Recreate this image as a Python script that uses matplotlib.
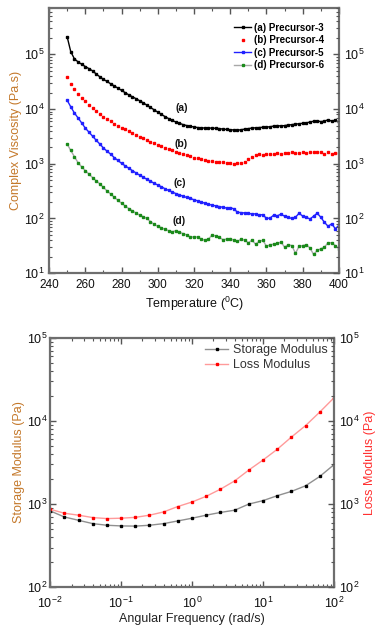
import matplotlib
matplotlib.use("Agg")
import matplotlib.pyplot as plt
from matplotlib.ticker import LogLocator, NullFormatter, MultipleLocator

plt.rcParams['font.family'] = ['Liberation Sans', 'DejaVu Sans']
plt.rcParams['mathtext.fontset'] = 'custom'
plt.rcParams['mathtext.rm'] = 'Liberation Sans'

# ---- top panel data: complex viscosity vs temperature ----
temp = [250, 252, 254, 256, 258, 260, 262, 264, 266, 268, 270, 272, 274, 276, 278,
        280, 282, 284, 286, 288, 290, 292, 294, 296, 298, 300, 302, 304, 306, 308,
        310, 312, 314, 316, 318, 320, 322, 324, 326, 328, 330, 332, 334, 336, 338,
        340, 342, 344, 346, 348, 350, 352, 354, 356, 358, 360, 362, 364, 366, 368,
        370, 372, 374, 376, 378, 380, 382, 384, 386, 388, 390, 392, 394, 396, 398, 400]

visc_a = [2.1e5, 1.12e5, 8.3e4, 7.3e4, 6.6e4, 6.0e4, 5.5e4, 5.0e4, 4.4e4, 3.9e4,
          3.5e4, 3.2e4, 2.9e4, 2.65e4, 2.42e4, 2.2e4, 2.0e4, 1.82e4, 1.68e4, 1.55e4,
          1.42e4, 1.3e4, 1.18e4, 1.07e4, 9.7e3, 8.8e3, 8.0e3, 7.3e3, 6.7e3, 6.2e3,
          5.8e3, 5.5e3, 5.2e3, 5.0e3, 4.85e3, 4.7e3, 4.6e3, 4.55e3, 4.5e3, 4.5e3,
          4.5e3, 4.45e3, 4.4e3, 4.3e3, 4.25e3, 4.2e3, 4.15e3, 4.1e3, 4.2e3, 4.3e3,
          4.4e3, 4.5e3, 4.55e3, 4.6e3, 4.65e3, 4.7e3, 4.75e3, 4.9e3, 5.0e3, 4.9e3,
          5.0e3, 5.1e3, 5.2e3, 5.3e3, 5.4e3, 5.5e3, 5.6e3, 5.8e3, 6.0e3, 6.1e3,
          5.9e3, 6.0e3, 6.4e3, 6.0e3, 6.3e3, 5.7e3]

visc_b = [3.9e4, 2.85e4, 2.35e4, 1.9e4, 1.6e4, 1.38e4, 1.2e4, 1.05e4, 9.2e3, 8.2e3,
          7.3e3, 6.6e3, 6.0e3, 5.4e3, 5.0e3, 4.6e3, 4.25e3, 3.95e3, 3.65e3, 3.4e3,
          3.15e3, 2.95e3, 2.75e3, 2.55e3, 2.4e3, 2.25e3, 2.1e3, 1.98e3, 1.86e3, 1.75e3,
          1.65e3, 1.57e3, 1.5e3, 1.43e3, 1.37e3, 1.3e3, 1.25e3, 1.2e3, 1.16e3, 1.13e3,
          1.12e3, 1.1e3, 1.08e3, 1.06e3, 1.04e3, 1.02e3, 1.0e3, 1.02e3, 1.05e3, 1.08e3,
          1.2e3, 1.35e3, 1.45e3, 1.48e3, 1.45e3, 1.5e3, 1.52e3, 1.5e3, 1.55e3, 1.5e3,
          1.57e3, 1.6e3, 1.62e3, 1.58e3, 1.6e3, 1.62e3, 1.6e3, 1.63e3, 1.65e3, 1.62e3,
          1.66e3, 1.5e3, 1.65e3, 1.52e3, 1.58e3, 1.55e3]

visc_c = [1.45e4, 1.1e4, 8.5e3, 6.9e3, 5.6e3, 4.5e3, 3.8e3, 3.2e3, 2.7e3, 2.3e3,
          1.95e3, 1.7e3, 1.5e3, 1.3e3, 1.15e3, 1.02e3, 920, 830, 750, 680,
          620, 570, 520, 480, 440, 410, 380, 350, 325, 305,
          285, 270, 255, 242, 232, 220, 210, 200, 190, 182,
          175, 170, 165, 160, 155, 158, 150, 130, 128, 126,
          125, 120, 122, 115, 118, 100, 102, 115, 112, 120,
          110, 105, 100, 105, 125, 110, 105, 98, 110, 125,
          105, 85, 72, 80, 65, 75]

visc_d = [2.3e3, 1.75e3, 1.35e3, 1.05e3, 880, 750, 650, 560, 490, 430,
          370, 320, 280, 245, 215, 190, 170, 152, 138, 126,
          115, 108, 100, 88, 78, 72, 68, 63, 60, 57,
          60, 56, 53, 50, 46, 46, 46, 42, 40, 42,
          50, 48, 45, 41, 42, 43, 40, 38, 42, 40,
          36, 40, 34, 38, 40, 31, 33, 34, 35, 37,
          30, 33, 32, 23, 31, 32, 33, 29, 22, 26,
          28, 30, 36, 36, 32, 28]

series_labels = ['(a) Precursor-3', '(b) Precursor-4', '(c) Precursor-5', '(d) Precursor-6']
curve_tags = ['(a)', '(b)', '(c)', '(d)']
tag_pos = [(313, 1.05e4), (313, 2.3e3), (312, 4.4e2), (312, 9.0e1)]

# ---- bottom panel data: moduli vs angular frequency ----
freq = [0.01, 0.0158, 0.0251, 0.0398, 0.0631, 0.1, 0.158, 0.251, 0.398, 0.631,
        1.0, 1.58, 2.51, 3.98, 6.31, 10.0, 15.8, 25.1, 39.8, 63.1, 100.0]
storage = [828, 700, 638, 582, 556, 546, 543, 556, 582, 627,
           676, 735, 793, 844, 1000, 1100, 1260, 1420, 1660, 2150, 2980]
loss = [867, 776, 735, 688, 669, 676, 692, 735, 805, 935,
        1060, 1240, 1510, 1900, 2570, 3390, 4550, 6400, 8800, 12800, 19000]

spine_col = '#6e6e6e'
ylab_col = '#c4782a'

fig = plt.figure(figsize=(3.83, 6.28), dpi=100)


def style_axes(ax, right_ax):
    for sp in ax.spines.values():
        sp.set_color(spine_col)
        sp.set_linewidth(1.6)
    ax.tick_params(which='both', direction='in', top=True, bottom=True, left=True,
                   right=False, colors='#555555', labelcolor='#111111', labelsize=8.5)
    ax.tick_params(which='major', length=4, width=1)
    ax.tick_params(which='minor', length=2, width=0.8)
    right_ax.tick_params(which='both', direction='in', right=True, left=False,
                         colors='#555555', labelcolor='#111111', labelsize=9)
    right_ax.tick_params(which='major', length=4, width=1)
    right_ax.tick_params(which='minor', length=2, width=0.8)
    for sp in right_ax.spines.values():
        sp.set_visible(False)


# top panel
ax1 = fig.add_axes([0.128, 0.565, 0.757, 0.422])
ax1.plot(temp, visc_a, '-s', color='black', ms=2, lw=1.0, mec='black', mfc='black', label=series_labels[0])
ax1.plot(temp, visc_b, 's', color='red', ms=2, mec='red', mfc='red', label=series_labels[1])
ax1.plot(temp, visc_c, '-s', color='#2020ff', ms=2, lw=1.0, mec='#2020ff', mfc='#2020ff', label=series_labels[2])
ax1.plot(temp, visc_d, '-s', color='#a8a8a8', ms=2, lw=1.0, mec='#1a8a1a', mfc='#1a8a1a', label=series_labels[3])
ax1.set_yscale('log')
ax1.set_xlim(240, 400)
ax1.set_ylim(10, 7e5)
ax1.xaxis.set_major_locator(MultipleLocator(20))
ax1.xaxis.set_minor_locator(MultipleLocator(10))
ax1.yaxis.set_major_locator(LogLocator(base=10, numticks=10))
ax1.yaxis.set_minor_locator(LogLocator(base=10, subs=range(2, 10), numticks=20))
ax1.set_xlabel('Temperature ($^{0}$C)', fontsize=9, color='#111111', labelpad=3)
ax1.set_ylabel('Complex Viscosity (Pa.s)', fontsize=9, color=ylab_col, labelpad=1)
for tag, (tx, ty) in zip(curve_tags, tag_pos):
    ax1.text(tx, ty, tag, fontsize=7.5, fontweight='bold', ha='center', va='center', color='#111111')
leg1 = ax1.legend(loc='upper right', frameon=False, prop={'weight': 'bold', 'size': 7},
                  handlelength=1.8, handletextpad=0.3, labelspacing=0.25, borderaxespad=1.1)
ax1r = ax1.twinx()
ax1r.set_yscale('log')
ax1r.set_ylim(ax1.get_ylim())
ax1r.yaxis.set_major_locator(LogLocator(base=10, numticks=10))
ax1r.yaxis.set_minor_locator(LogLocator(base=10, subs=range(2, 10), numticks=20))
style_axes(ax1, ax1r)
ax1.tick_params(axis='y', labelsize=9)
ax1.tick_params(axis='x', pad=4)

# bottom panel
ax2 = fig.add_axes([0.131, 0.065, 0.741, 0.397])
ax2.plot(freq, storage, '-s', color='#909090', ms=2, lw=1.0, mec='black', mfc='black', label='Storage Modulus')
ax2.plot(freq, loss, '-s', color='#ff9a9a', ms=2, lw=1.0, mec='red', mfc='red', label='Loss Modulus')
ax2.set_xscale('log')
ax2.set_yscale('log')
ax2.set_xlim(1e-2, 1e2)
ax2.set_ylim(1e2, 1e5)
ax2.xaxis.set_minor_locator(LogLocator(base=10, subs=range(2, 10), numticks=20))
ax2.xaxis.set_minor_formatter(NullFormatter())
ax2.yaxis.set_minor_locator(LogLocator(base=10, subs=range(2, 10), numticks=20))
ax2.yaxis.set_minor_formatter(NullFormatter())
ax2.set_xlabel('Angular Frequency (rad/s)', fontsize=9, color='#222222', labelpad=2)
ax2.set_ylabel('Storage Modulus (Pa)', fontsize=9, color=ylab_col, labelpad=1)
ax2.legend(loc='upper right', frameon=False, prop={'size': 9}, handlelength=1.8,
           handletextpad=0.4, labelspacing=0.25, borderaxespad=0.1, labelcolor='#333333')
ax2r = ax2.twinx()
ax2r.set_yscale('log')
ax2r.set_ylim(1e2, 1e5)
ax2r.yaxis.set_minor_locator(LogLocator(base=10, subs=range(2, 10), numticks=20))
ax2r.yaxis.set_minor_formatter(NullFormatter())
ax2r.set_ylabel('Loss Modulus (Pa)', fontsize=9, color='#ff3030', labelpad=3)
style_axes(ax2, ax2r)
ax2.tick_params(axis='y', labelsize=9, pad=2)
ax2.tick_params(axis='x', labelsize=9, pad=6)

fig.savefig('out.png', dpi=100)
